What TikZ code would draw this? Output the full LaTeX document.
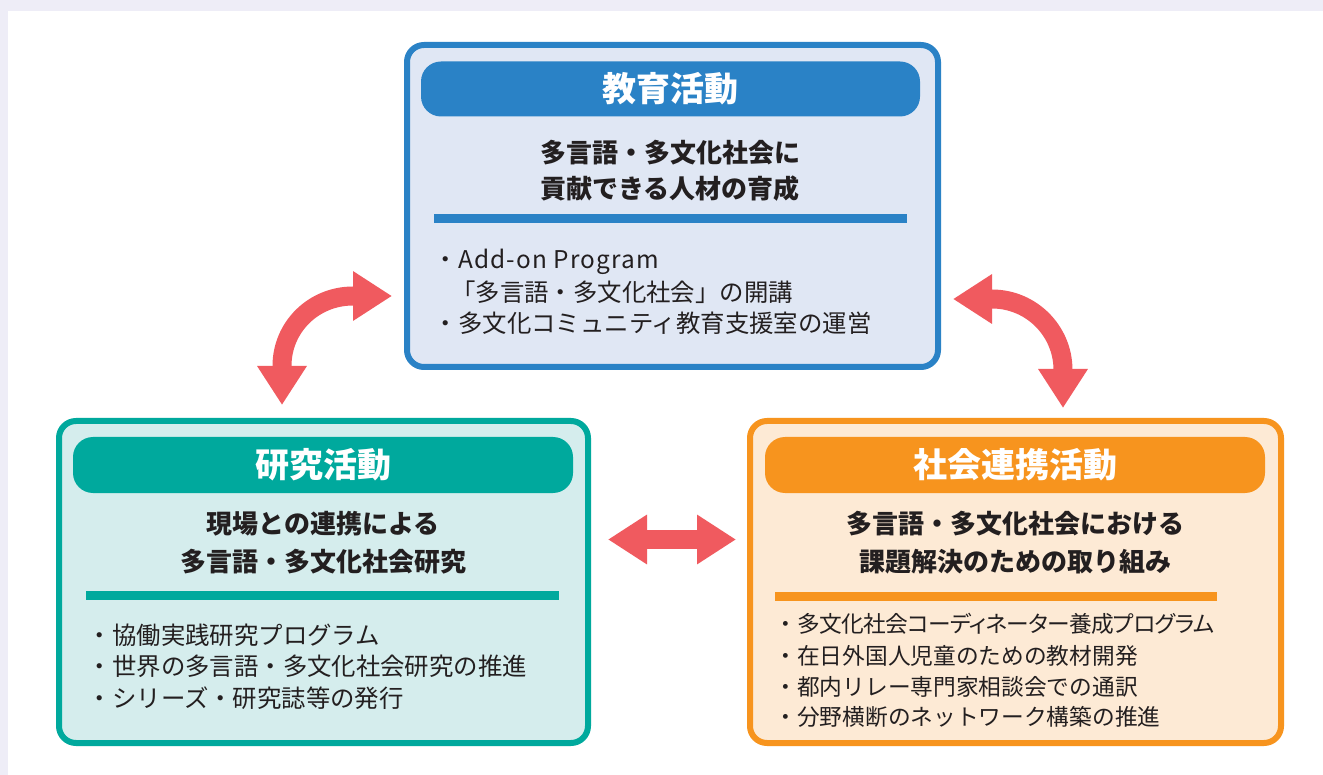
\documentclass[tikz,border=0pt]{standalone}
\usepackage{fontspec}
\setmainfont{Noto Sans CJK JP}
\usetikzlibrary{arrows.meta}
\definecolor{bgl}{HTML}{EEEDF7}
\definecolor{eblue}{HTML}{2A82C6}
\definecolor{efill}{HTML}{E0E7F4}
\definecolor{rteal}{HTML}{00A99D}
\definecolor{rfill}{HTML}{D5EDED}
\definecolor{sor}{HTML}{F7941E}
\definecolor{sfill}{HTML}{FDEAD5}
\definecolor{arr}{HTML}{F05A5F}
\definecolor{ink}{HTML}{231F20}
\tikzset{
  outerbox/.style={draw, line width=6pt, rounded corners=17pt, inner sep=0pt},
  header/.style={rounded corners=20pt, inner sep=0pt, text=white,
    font=\fontsize{34}{40}\selectfont\bfseries, text height=29.9pt, text depth=4.1pt},
  subtitle/.style={font=\fontsize{26}{30}\selectfont\bfseries, anchor=base, inner sep=0pt, text=ink},
  item/.style={font=\fontsize{24.4}{30}\selectfont, anchor=base west, inner sep=0pt, text=ink},
  ritem/.style={font=\fontsize{22.7}{28}\selectfont, anchor=base west, inner sep=0pt, text=ink},
  bigarrow/.style={draw=arr, line width=19pt,
    {Triangle[length=39pt,width=47pt]}-{Triangle[length=39pt,width=47pt]}},
}
\begin{document}
\begin{tikzpicture}[x=1pt,y=-1pt]
\useasboundingbox (0,0) rectangle (1323,775);
\fill[bgl] (0,0) rectangle (1323,775);
\fill[white] (8,11) rectangle (1323,775);

% ---------- top box: education ----------
\node[outerbox, draw=eblue, fill=efill, minimum width=531pt, minimum height=322pt] (edu) at (672.5,206) {};
\node[header, fill=eblue, minimum width=499pt, minimum height=55pt] (eduh) at (670.5,89) {教育活動};
\node[subtitle] (edus1) at (670,162.9) {多言語・多文化社会に};
\node[subtitle] (edus2) at (670,198.9) {貢献できる人材の育成};
\fill[eblue] (434,214) rectangle (907,223);
\node[item] (edui1) at (433.6,268.5) {・{\addfontfeature{LetterSpace=4.7}Add-on Program}};
\node[item] (edui2) at (451,301.3) {「多言語・多文化社会」の開講};
\node[item] (edui3) at (433.6,332.3) {・多文化コミュニティ教育支援室の運営};

% ---------- left box: research ----------
\node[outerbox, draw=rteal, fill=rfill, minimum width=529pt, minimum height=322pt] (res) at (323.5,582) {};
\node[header, fill=rteal, minimum width=500pt, minimum height=56pt] (resh) at (323,465) {研究活動};
\node[subtitle] (ress1) at (323,533.9) {現場との連携による};
\node[subtitle] (ress2) at (323,571.9) {多言語・多文化社会研究};
\fill[rteal] (86,591) rectangle (559,600);
\node[item] (resi1) at (87.6,644.3) {・協働実践研究プログラム};
\node[item] (resi2) at (87.6,675.8) {・世界の多言語・多文化社会研究の推進};
\node[item] (resi3) at (87.6,707.3) {・シリーズ・研究誌等の発行};

% ---------- right box: social cooperation ----------
\node[outerbox, draw=sor, fill=sfill, minimum width=531pt, minimum height=322pt] (soc) at (1015.5,582) {};
\node[header, fill=sor, minimum width=500pt, minimum height=56pt] (soch) at (1015,465) {社会連携活動};
\node[subtitle] (socs1) at (1015,533.9) {多言語・多文化社会における};
\node[subtitle] (socs2) at (1015,571.9) {課題解決のための取り組み};
\fill[sor] (775,592) rectangle (1217,601);
\node[ritem] (soci1) at (774.3,632.6) {・{\addfontfeature{RawFeature=+palt,LetterSpace=-3}多文化社会コーディネーター養成プログラム}};
\node[ritem] (soci2) at (774.3,664.6) {・在日外国人児童のための教材開発};
\node[ritem] (soci3) at (774.3,695.1) {・都内リレー専門家相談会での通訳};
\node[ritem] (soci4) at (774.3,725.1) {・分野横断のネットワーク構築の推進};

% ---------- arrows ----------
\coordinate (a1s) at (282,405);
\coordinate (a1a) at (282,366);
\coordinate (a1b) at (353,296);
\coordinate (a1e) at (392,296);
\draw[bigarrow] (a1s) -- (a1a) .. controls (282,326.8) and (313.8,296) .. (a1b) -- (a1e);

\coordinate (a2s) at (953,299);
\coordinate (a2a) at (992,299);
\coordinate (a2b) at (1063,370);
\coordinate (a2e) at (1063,408);
\draw[bigarrow] (a2s) -- (a2a) .. controls (1031.2,299) and (1063,330.8) .. (a2b) -- (a2e);

\coordinate (a3s) at (608,539.5);
\coordinate (a3e) at (736,539.5);
\draw[bigarrow] (a3s) -- (a3e);
\end{tikzpicture}
\end{document}
